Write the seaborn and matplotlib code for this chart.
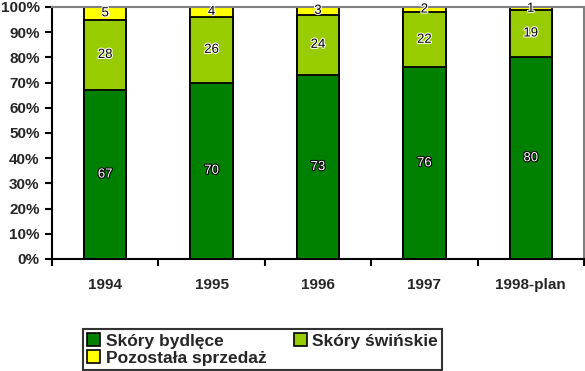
import matplotlib
matplotlib.use("Agg")
import matplotlib.pyplot as plt
import matplotlib.patheffects as pe
from matplotlib.patches import Patch
import numpy as np
import seaborn as sns

# dane (udzial procentowy)
lata = ["1994", "1995", "1996", "1997", "1998-plan"]
skory_bydlece = [67, 70, 73, 76, 80]
skory_swinskie = [28, 26, 24, 22, 19]
pozostala_sprzedaz = [5, 4, 3, 2, 1]

serie = ["Skóry bydlęce", "Skóry świńskie", "Pozostała sprzedaż"]
kolory = ["#008000", "#99CC00", "#FFFF00"]

sns.set_theme(style="white")
plt.rcParams["font.family"] = ["Liberation Sans", "DejaVu Sans"]

fig = plt.figure(figsize=(5.85, 3.71), dpi=100)
ax = fig.add_axes([52 / 585, 1 - 259 / 371, 532 / 585, 252 / 371])

wartosci = np.array([skory_bydlece, skory_swinskie, pozostala_sprzedaz])
narastajaco = wartosci.cumsum(axis=0)

# stos rysowany od najwyzszej sumy w dol
for k in [2, 1, 0]:
    sns.barplot(x=lata, y=narastajaco[k], color=kolory[k], saturation=1,
                width=0.4, edgecolor="black", linewidth=1.3, ax=ax)

# etykiety wartosci
for k in range(3):
    dol = narastajaco[k] - wartosci[k]
    for i, v in enumerate(wartosci[k]):
        srodek = dol[i] + v / 2
        if k == 0:
            kol, obrys = "white", "black"
        else:
            kol, obrys = "black", "white"
        ax.text(i, min(srodek, 99.3), str(v), ha="center", va="center",
                fontsize=9.5, color=kol,
                path_effects=[pe.withStroke(linewidth=1.5, foreground=obrys)])

ax.set_ylim(0, 100)
ax.set_xlim(-0.5, 4.5)
ax.set_yticks(np.arange(0, 101, 10))
ax.set_yticklabels([f"{t}%" for t in range(0, 101, 10)], fontsize=11,
                   fontweight="bold")
ax.set_xticks(range(len(lata)))
ax.set_xticklabels(lata, fontsize=11, fontweight="bold")
ax.set_xticks(np.arange(-0.5, 5, 1), minor=True)
ax.set_xlabel("")
ax.set_ylabel("")

ax.tick_params(axis="y", which="major", direction="out", length=5, width=1.5,
               color="black", pad=4, left=True)
ax.tick_params(axis="x", which="major", length=0, pad=14)
ax.tick_params(axis="x", which="minor", direction="out", length=5, width=1.5,
               color="black", bottom=True)

for s in ["left", "bottom"]:
    ax.spines[s].set_color("black")
    ax.spines[s].set_linewidth(1.5)
for s in ["top", "right"]:
    ax.spines[s].set_color("#808080")
    ax.spines[s].set_linewidth(1.5)
ax.grid(False)

uchwyty = [Patch(facecolor=c, edgecolor="black", linewidth=1.2) for c in kolory]
kolejnosc = [0, 2, 1]
leg = fig.legend([uchwyty[j] for j in kolejnosc], [serie[j] for j in kolejnosc],
                 ncol=2, loc="lower left", bbox_to_anchor=(83 / 585, 1 / 371),
                 frameon=True, fancybox=False, edgecolor="black",
                 prop={"weight": "bold", "size": 12.5},
                 handlelength=0.75, handleheight=0.75, handletextpad=0.3,
                 columnspacing=1.6, labelspacing=0.1, borderpad=0.25,
                 borderaxespad=0)
leg.get_frame().set_linewidth(1.5)

fig.savefig("out.png", dpi=100)
